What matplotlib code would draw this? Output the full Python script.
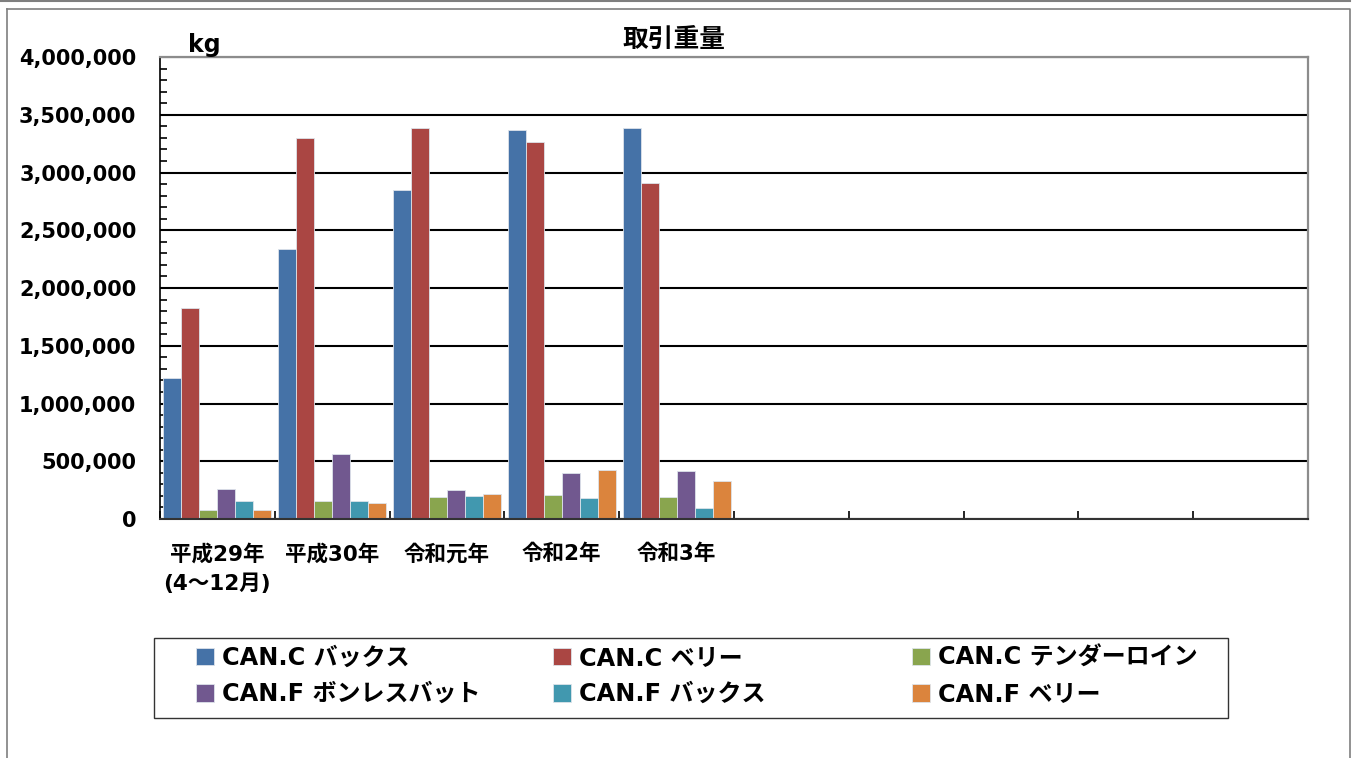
import matplotlib
matplotlib.use("Agg")
import matplotlib.pyplot as plt
from matplotlib.ticker import MultipleLocator, FuncFormatter, FixedLocator
from matplotlib.font_manager import FontProperties
from matplotlib.patches import Rectangle
from matplotlib.lines import Line2D
import numpy as np

# ---- data ----
categories = ['平成29年\n(4～12月)', '平成30年', '令和元年', '令和2年', '令和3年', '', '', '', '', '']
series_names = ['CAN.C バックス', 'CAN.C ベリー', 'CAN.C テンダーロイン',
                'CAN.F ボンレスバット', 'CAN.F バックス', 'CAN.F ベリー']
can_c_backs = [1217000, 2341000, 2845000, 3369000, 3383000]
can_c_belly = [1823000, 3300000, 3383000, 3263000, 2908000]
can_c_tender = [75000, 159000, 191000, 208000, 191000]
can_f_boneless = [260000, 566000, 251000, 396000, 419000]
can_f_backs = [159000, 159000, 199000, 182000, 95000]
can_f_belly = [81000, 139000, 220000, 428000, 332000]
series_values = [can_c_backs, can_c_belly, can_c_tender, can_f_boneless, can_f_backs, can_f_belly]
colors = ['#4572A7', '#AA4643', '#89A54E', '#71588F', '#4198AF', '#DB843D']
title = '取引重量'
unit = 'kg'

FAM = ['DejaVu Sans', 'Noto Sans CJK JP']
plt.rcParams['font.family'] = FAM
plt.rcParams['font.weight'] = 'bold'

W, H = 1356, 758
fig = plt.figure(figsize=(W / 100, H / 100), dpi=100)
fig.patch.set_facecolor('white')

def fx(px):
    return px / W

def fy(py):
    return 1 - py / H

L, R, T, B = 160, 1308, 57, 519
ax = fig.add_axes([fx(L), fy(B), fx(R) - fx(L), fy(T) - fy(B)])

n_cat = len(categories)
n_ser = len(series_values)
bw = 0.157
for j, (vals, c, name) in enumerate(zip(series_values, colors, series_names)):
    xs = np.arange(len(vals)) + 0.5 + (j - (n_ser - 1) / 2) * bw
    ax.bar(xs, vals, width=bw, color=c, edgecolor='#dde3ea', linewidth=0.6, label=name, zorder=2)

ax.set_xlim(0, n_cat)
ax.set_ylim(0, 4000000)
ax.yaxis.set_major_locator(MultipleLocator(500000))
ax.yaxis.set_minor_locator(MultipleLocator(100000))
ax.yaxis.set_major_formatter(FuncFormatter(lambda v, p: f'{int(v):,}'))
ax.set_axisbelow(True)
ax.grid(axis='y', which='major', color='black', linewidth=1.5)

ax.xaxis.set_major_locator(FixedLocator(np.arange(0, n_cat + 1)))
ax.xaxis.set_minor_locator(FixedLocator(np.arange(n_cat) + 0.5))
ax.xaxis.set_major_formatter(FuncFormatter(lambda v, p: ''))
ax.xaxis.set_minor_formatter(FuncFormatter(lambda v, p: categories[int(v)] if 0 <= int(v) < n_cat else ''))
ax.tick_params(axis='x', which='major', direction='in', length=6, width=1.2, color='black')
ax.tick_params(axis='x', which='minor', length=0, pad=18)
ax.tick_params(axis='y', which='major', direction='in', length=6, width=1.2, pad=17)
ax.tick_params(axis='y', which='minor', direction='in', length=5, width=1.2)

for lab in ax.get_yticklabels():
    lab.set_fontsize(15)
    lab.set_fontweight('bold')
for lab in ax.xaxis.get_minorticklabels():
    lab.set_fontsize(15.5)
    lab.set_fontweight('bold')
    lab.set_linespacing(1.55)

ax.spines['left'].set_color('black')
ax.spines['left'].set_linewidth(1.2)
ax.spines['bottom'].set_color('#333333')
ax.spines['bottom'].set_linewidth(1.5)
ax.spines['top'].set_color('#8c8c8c')
ax.spines['top'].set_linewidth(1.6)
ax.spines['right'].set_color('#8c8c8c')
ax.spines['right'].set_linewidth(1.6)

# title and unit
fig.text(fx(674), fy(40), title, ha='center', va='center', fontsize=18.5, fontweight='bold')
fig.text(fx(188), fy(52), unit, ha='left', va='baseline', fontsize=17, fontweight='bold')

# legend: frame + three columns
fig.add_artist(Rectangle((fx(154), fy(718)), fx(1228) - fx(154), fy(638) - fy(718),
                         transform=fig.transFigure, fill=False, edgecolor='#333333', linewidth=1.0))
handles, labels = ax.get_legend_handles_labels()
lprop = FontProperties(family=FAM, weight='bold', size=17.3)
col_x = [196, 553, 912]
order = [[0, 3], [1, 4], [2, 5]]
for cx, idx in zip(col_x, order):
    lg = fig.legend([handles[i] for i in idx], [labels[i] for i in idx],
                    loc='center left', bbox_to_anchor=(fx(cx), fy(676)),
                    bbox_transform=fig.transFigure, frameon=False, prop=lprop,
                    borderpad=0, borderaxespad=0, handlelength=0.75, handleheight=0.75,
                    handletextpad=0.32, labelspacing=0.52)

# outer frame lines
gray = '#7f7f7f'
fig.add_artist(Line2D([0, fx(1350)], [fy(1), fy(1)], transform=fig.transFigure, color=gray, linewidth=1.5))
fig.add_artist(Line2D([fx(7), fx(1350), fx(1350)], [fy(9), fy(9), fy(758)], transform=fig.transFigure,
                      color=gray, linewidth=1.2))
fig.add_artist(Line2D([fx(7), fx(7)], [fy(9), fy(758)], transform=fig.transFigure, color=gray, linewidth=1.2))

fig.savefig('out.png', dpi=100, facecolor='white')
